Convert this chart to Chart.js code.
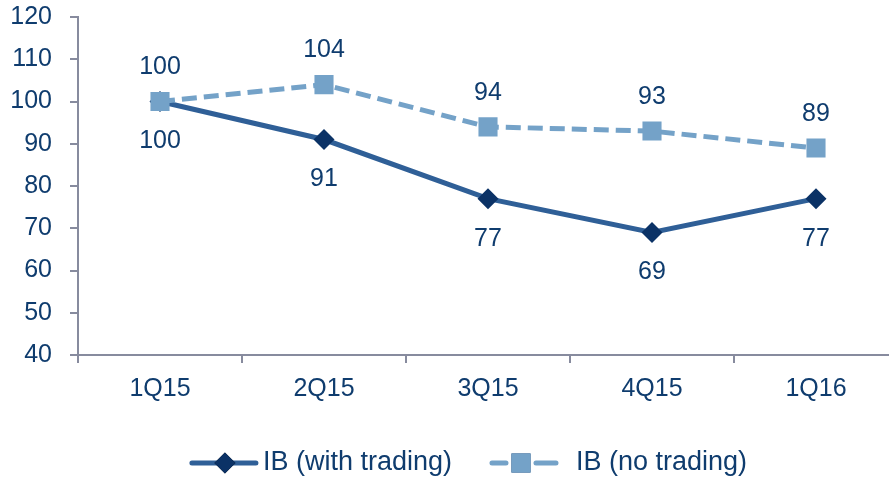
<!DOCTYPE html>
<html>
<head>
<meta charset="utf-8">
<script src="https://cdn.jsdelivr.net/npm/chart.js@4/dist/chart.umd.min.js"></script>
<style>
  html, body { margin: 0; padding: 0; background: #ffffff; overflow: hidden; }
  #wrap { width: 889px; height: 477px; overflow: hidden; position: relative; }
  #c { display: block; }
</style>
</head>
<body>
<div id="wrap"><canvas id="c" width="936" height="477"></canvas></div>
<script>
const categories = ['1Q15', '2Q15', '3Q15', '4Q15', '1Q16'];
const withTrading = [100, 91, 77, 69, 77];
const noTrading = [100, 104, 94, 93, 89];
const seriesNames = ['IB (with trading)', 'IB (no trading)'];
const yTicks = [40, 50, 60, 70, 80, 90, 100, 110, 120];

const TEXT = '#0f3c6e';
const AXIS = '#878b9e';
const FONT = '"Liberation Sans", Arial, sans-serif';
const FS = 25;
const LFS = 27;

const labelPlugin = {
  id: 'valueLabels',
  afterDatasetsDraw(chart) {
    const ctx = chart.ctx;
    ctx.save();
    ctx.font = FS + 'px ' + FONT;
    ctx.fillStyle = TEXT;
    ctx.textAlign = 'center';
    ctx.textBaseline = 'middle';
    chart.data.datasets.forEach((ds, i) => {
      const meta = chart.getDatasetMeta(i);
      meta.data.forEach((pt, j) => {
        ctx.fillText(String(ds.data[j]), pt.x, pt.y + ds.labelOffset);
      });
    });
    ctx.restore();
  }
};

const legendPlugin = {
  id: 'customLegend',
  afterDraw(chart) {
    const ctx = chart.ctx;
    ctx.save();
    ctx.font = LFS + 'px ' + FONT;
    const lineLen = 70, gapItems = 37;
    const items = chart.data.datasets.map(ds => ({
      ds, tw: ctx.measureText(ds.label).width, tg: ds.borderDash ? 17 : 4
    }));
    const total = items.reduce((s, it) => s + lineLen + it.tg + it.tw, 0) + gapItems * (items.length - 1);
    let x = chart.width / 2 - total / 2;
    const y = chart.height - 14;
    items.forEach(it => {
      const ds = it.ds;
      ctx.strokeStyle = ds.borderColor;
      ctx.lineWidth = ds.borderWidth;
      ctx.lineCap = 'round';
      ctx.beginPath();
      if (ds.borderDash) {
        ctx.moveTo(x + 3, y); ctx.lineTo(x + 17, y);
        ctx.moveTo(x + 47, y); ctx.lineTo(x + lineLen - 3, y);
      } else {
        ctx.moveTo(x + 3, y); ctx.lineTo(x + lineLen - 3, y);
      }
      ctx.stroke();
      Chart.helpers.drawPoint(ctx, {
        pointStyle: ds.pointStyle,
        radius: ds.pointRadius,
        borderWidth: 0,
        rotation: 0
      }, x + (ds.borderDash ? 32 : 36), y);
      ctx.fillStyle = ds.pointBackgroundColor;
      ctx.fill();
      ctx.fillStyle = TEXT;
      ctx.textAlign = 'left';
      ctx.textBaseline = 'middle';
      ctx.fillText(ds.label, x + lineLen + it.tg, y);
      x += lineLen + it.tg + it.tw + gapItems;
    });
    ctx.restore();
  }
};

new Chart(document.getElementById('c'), {
  type: 'line',
  data: {
    labels: categories,
    datasets: [
      {
        label: seriesNames[0],
        data: withTrading,
        borderColor: '#2f5f97',
        borderWidth: 5,
        pointStyle: 'rectRot',
        pointRadius: 10.5,
        pointHoverRadius: 10.5,
        pointBackgroundColor: '#0b3266',
        pointBorderWidth: 0,
        labelOffset: 40,
        tension: 0,
        order: 2
      },
      {
        label: seriesNames[1],
        data: noTrading,
        borderColor: '#74a2c8',
        borderWidth: 5,
        borderDash: [15, 7],
        pointStyle: 'rect',
        pointRadius: 13.5,
        pointHoverRadius: 13.5,
        pointBackgroundColor: '#74a2c8',
        pointBorderWidth: 0,
        labelOffset: -34,
        tension: 0,
        order: 1
      }
    ]
  },
  options: {
    responsive: false,
    animation: false,
    events: [],
    layout: { padding: { left: 0, right: 38, top: 17, bottom: 62 } },
    plugins: { legend: { display: false }, tooltip: { enabled: false } },
    scales: {
      x: {
        offset: true,
        grid: { offset: true, drawOnChartArea: false, color: AXIS, lineWidth: 2, tickLength: 8 },
        border: { color: AXIS, width: 2 },
        ticks: { color: TEXT, font: { family: FONT, size: FS }, padding: 11, maxRotation: 0 },
        afterFit(s) { s.height = 60; s.paddingLeft = 0; s.paddingRight = 0; }
      },
      y: {
        min: 40, max: 120,
        afterBuildTicks(s) { s.ticks = yTicks.map(v => ({ value: v })); },
        grid: { drawOnChartArea: false, color: AXIS, lineWidth: 2, tickLength: 8 },
        border: { color: AXIS, width: 2 },
        ticks: { color: TEXT, font: { family: FONT, size: FS }, padding: 18 },
        afterFit(s) { s.width = 78; s.paddingTop = 0; s.paddingBottom = 0; }
      }
    }
  },
  plugins: [labelPlugin, legendPlugin]
});
</script>
</body>
</html>
